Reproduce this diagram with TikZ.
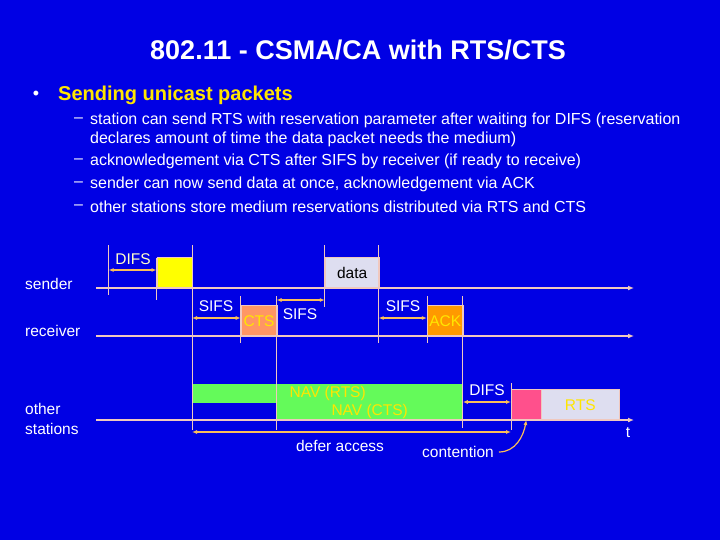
\documentclass[tikz,border=0pt]{standalone}
\usepackage{fontspec}
\setmainfont{Liberation Sans}
\usetikzlibrary{arrows.meta}
\definecolor{bg}{RGB}{0,0,228}
\definecolor{ax}{RGB}{240,200,190}
\definecolor{arr}{RGB}{250,190,90}
\definecolor{ylw}{RGB}{255,255,0}
\definecolor{lav}{RGB}{222,222,240}
\definecolor{salm}{RGB}{255,150,100}
\definecolor{orng}{RGB}{255,153,0}
\definecolor{grn}{RGB}{100,250,90}
\definecolor{pnk}{RGB}{255,80,140}
\definecolor{txtyl}{RGB}{255,230,0}
\definecolor{lyel}{RGB}{255,255,200}
\begin{document}
\begin{tikzpicture}[x=1pt,y=-1pt,
  axis/.style={draw=ax,line width=1.2pt,-{Latex[length=6pt,width=5pt]}},
  tick/.style={draw=ax,line width=0.8pt},
  dim/.style={draw=arr,line width=1.2pt,{Latex[length=5pt,width=4pt]}-{Latex[length=5pt,width=4pt]}},
  lbl/.style={text=lyel,font=\fontsize{15.5}{18}\selectfont,inner sep=0pt},
  fr/.style={draw=ax,line width=0.6pt},
  sub/.style={text=white,font=\fontsize{16}{19}\selectfont,anchor=west,inner sep=0pt}]
\fill[bg] (0,0) rectangle (720,540);
\useasboundingbox (0,0) rectangle (720,540);
\node[font=\bfseries\fontsize{27}{30}\selectfont,text=white] (title) at (358,50) {802.11 - CSMA/CA with RTS/CTS};
\node[text=white,font=\fontsize{18}{20}\selectfont] (bul) at (36,95) {•};
\node[anchor=west,text=txtyl,font=\bfseries\fontsize{20}{22}\selectfont,inner sep=0pt] (h) at (58,95) {Sending unicast packets};
\foreach \yy/\t [count=\i] in {120/{station can send RTS with reservation parameter after waiting for DIFS (reservation},161/{acknowledgement via CTS after SIFS by receiver (if ready to receive)},184/{sender can now send data at once, acknowledgement via ACK},207/{other stations store medium reservations distributed via RTS and CTS}}{
  \node[sub] (d\i) at (74,\yy) {–};
  \node[sub] (s\i) at (90,\yy) {\t};}
\node[sub] (s1b) at (90,139) {declares amount of time the data packet needs the medium)};
% row labels
\node[lbl,text=white,anchor=west] (snd) at (25,284) {sender};
\node[lbl,text=white,anchor=west] (rcv) at (25,331) {receiver};
\node[lbl,text=white,align=left,anchor=west] (oth) at (25,419) {other\\[2pt]stations};
% boxes
\node[fr,fill=ylw,minimum width=35pt,minimum height=30pt,anchor=south west,inner sep=0pt,lbl,text=ylw] (rts) at (156.5,288) {RTS};
\node[fr,fill=lav,minimum width=54pt,minimum height=30pt,anchor=south west,inner sep=0pt,lbl,text=black] (data) at (324.8,288) {data};
\node[fr,fill=salm,minimum width=36pt,minimum height=30pt,anchor=south west,inner sep=0pt,lbl,text=txtyl] (cts) at (240.7,336) {CTS};
\node[fr,fill=orng,minimum width=36pt,minimum height=30pt,anchor=south west,inner sep=0pt,lbl,text=txtyl] (ack) at (426.9,336) {ACK};
\node[fill=grn,minimum width=271pt,minimum height=19pt,anchor=south west,inner sep=0pt,lbl,text=txtyl] (navr) at (192,403) {NAV (RTS)};
\node[fill=grn,minimum width=186pt,minimum height=17pt,anchor=south west,inner sep=0pt,lbl,text=txtyl] (navc) at (276.5,420) {NAV (CTS)};
\node[fr,fill=pnk,minimum width=30pt,minimum height=30pt,anchor=south west,inner sep=0pt] (pk) at (511,420) {};
\node[fr,fill=lav,minimum width=78pt,minimum height=30pt,anchor=south west,inner sep=0pt,lbl,text=txtyl] (rts2) at (541,420) {RTS};
% axes
\coordinate (a1s) at (96,288); \coordinate (a1e) at (634,288);
\coordinate (a2s) at (96,336); \coordinate (a2e) at (634,336);
\coordinate (a3s) at (96,420); \coordinate (a3e) at (634,420);
\draw[axis] (a1s) -- (a1e);
\draw[axis] (a2s) -- (a2e);
\draw[axis] (a3s) -- (a3e);
% ticks
\draw[tick] (108.6,245) -- (108.6,295);
\draw[tick] (156.5,258) -- (156.5,300);
\draw[tick] (192,245) -- (192,430);
\draw[tick] (240.7,296) -- (240.7,343);
\draw[tick] (276.5,296) -- (276.5,430);
\draw[tick] (324.8,245) -- (324.8,307);
\draw[tick] (378.6,245) -- (378.6,343);
\draw[tick] (426.9,296) -- (426.9,343);
\draw[tick] (462.8,296) -- (462.8,428);
\draw[tick] (511,383) -- (511,430);
% dimension arrows
\coordinate (p1) at (108.6,270); \coordinate (p2) at (156.5,270);
\draw[dim] (p1) -- (p2);
\coordinate (q1) at (192,318); \coordinate (q2) at (240.7,318);
\draw[dim] (q1) -- (q2);
\coordinate (r1) at (276.5,300); \coordinate (r2) at (324.8,300);
\draw[dim] (r1) -- (r2);
\coordinate (u1) at (378.6,318); \coordinate (u2) at (426.9,318);
\draw[dim] (u1) -- (u2);
\coordinate (v1) at (462.8,402); \coordinate (v2) at (511,402);
\draw[dim] (v1) -- (v2);
\coordinate (w1) at (192,432); \coordinate (w2) at (511,432);
\draw[dim] (w1) -- (w2);
% labels
\node[lbl] (l1) at (133,259) {DIFS};
\node[lbl,text=white] (l2) at (216,306) {SIFS};
\node[lbl,text=white] (l3) at (300,314) {SIFS};
\node[lbl,text=white] (l4) at (403,306) {SIFS};
\node[lbl,text=white] (l5) at (487,390) {DIFS};
\node[lbl,text=white] (l6) at (340,446) {defer access};
\node[lbl,text=white] (l7) at (458,452) {contention};
\node[lbl,text=white] (l8) at (628,433) {t};
\draw[draw=arr,line width=1.2pt,-{Latex[length=5pt,width=4pt]}] (l7.east)++(5,0) to[out=0,in=-100] (pk.south);
\end{tikzpicture}
\end{document}
